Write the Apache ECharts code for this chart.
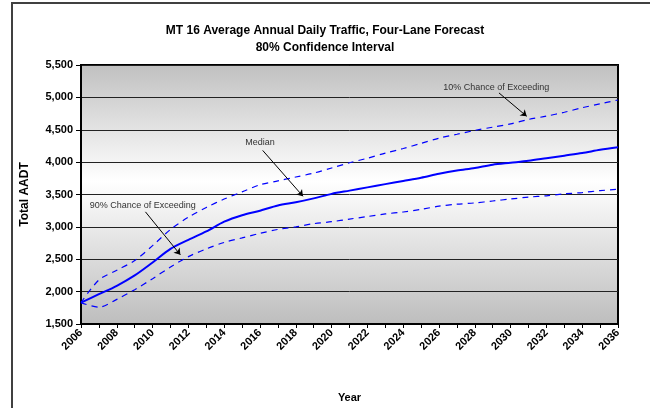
<!DOCTYPE html>
<html>
<head>
<meta charset="utf-8">
<script src="https://cdn.jsdelivr.net/npm/echarts@6/dist/echarts.min.js"></script>
<style>
  html, body { margin: 0; padding: 0; background: #fff; }
  #chart { width: 650px; height: 408px; }
</style>
</head>
<body>
<div id="chart"></div>
<script>
// years on the x axis
const years = [2006, 2007, 2008, 2009, 2010, 2011, 2012, 2013, 2014, 2015, 2016,
  2017, 2018, 2019, 2020, 2021, 2022, 2023, 2024, 2025, 2026,
  2027, 2028, 2029, 2030, 2031, 2032, 2033, 2034, 2035, 2036]

// median forecast
const median = [1830, 1960, 2090, 2250, 2450, 2660, 2800, 2930, 3080, 3180, 3250,
  3330, 3380, 3440, 3510, 3560, 3610, 3660, 3710, 3760, 3820,
  3870, 3910, 3960, 3990, 4020, 4060, 4100, 4140, 4190, 4230]

// 10% chance of exceeding (upper bound)
const upper = [1830, 2180, 2330, 2480, 2710, 2960, 3150, 3300, 3430, 3540, 3650,
  3710, 3770, 3830, 3910, 3990, 4060, 4140, 4210, 4290, 4370,
  4430, 4490, 4540, 4590, 4660, 4710, 4770, 4840, 4900, 4960]

// 90% chance of exceeding (lower bound)
const lower = [1830, 1760, 1880, 2030, 2200, 2380, 2540, 2660, 2760, 2830, 2900,
  2960, 3000, 3050, 3080, 3120, 3160, 3200, 3230, 3270, 3320,
  3350, 3370, 3400, 3430, 3460, 3480, 3510, 3530, 3560, 3580]

// annotation labels [text, year, value] and arrows [from, to]
const notes = [
  ['10% Chance of Exceeding', 2029.2, 5145],
  ['Median', 2016.0, 4300],
  ['90% Chance of Exceeding', 2009.45, 3337]
]
const arrows = [
  [[2029.35, 5069], [2030.9, 4708]],
  [[2016.15, 4181], [2018.4, 3473]],
  [[2009.6, 3232], [2011.55, 2569]]
]

const pairs = (vals) => vals.map((v, i) => [years[i], v])
const font = 'Liberation Sans, Arial, sans-serif'

const chart = echarts.init(document.getElementById('chart'))

const option = {
  animation: false,
  backgroundColor: '#fff',
  title: {
    text: 'MT 16 Average Annual Daily Traffic, Four-Lane Forecast\n80% Confidence Interval',
    left: 320,
    textAlign: 'center',
    top: 17,
    textStyle: {
      fontFamily: font,
      fontSize: 12,
      fontWeight: 'bold',
      color: '#000',
      lineHeight: 17
    }
  },
  graphic: [
    {
      type: 'polyline',
      shape: { points: [[12, 410], [12, 3], [652, 3]] },
      style: { stroke: '#404040', lineWidth: 2, fill: null },
      silent: true
    }
  ],
  grid: {
    left: 81,
    top: 65,
    width: 537,
    height: 265,
    show: true,
    borderColor: '#000',
    borderWidth: 2,
    backgroundColor: new echarts.graphic.LinearGradient(0, 0, 0, 1, [
      { offset: 0, color: '#c0c0c0' },
      { offset: 0.45, color: '#ffffff' },
      { offset: 1, color: '#bdbdbd' }
    ])
  },
  xAxis: {
    type: 'value',
    min: 2006,
    max: 2036,
    interval: 1,
    name: 'Year',
    nameLocation: 'middle',
    nameGap: 68,
    nameTextStyle: { fontFamily: font, fontSize: 11, fontWeight: 'bold', color: '#000' },
    axisLine: { lineStyle: { color: '#000', width: 2 } },
    axisTick: { show: true, length: 4, lineStyle: { color: '#000' } },
    splitLine: { show: false },
    axisLabel: {
      rotate: 45,
      margin: 7,
      fontFamily: font,
      fontSize: 11,
      fontWeight: 'bold',
      color: '#000',
      formatter: (v) => (v % 2 === 0 ? String(v) : '')
    }
  },
  yAxis: {
    type: 'value',
    min: 1500,
    max: 5500,
    interval: 500,
    name: 'Total AADT',
    nameLocation: 'middle',
    nameGap: 50,
    nameTextStyle: { fontFamily: font, fontSize: 12, fontWeight: 'bold', color: '#000' },
    axisLine: { show: true, lineStyle: { color: '#000', width: 2 } },
    axisTick: { show: true, length: 5, lineStyle: { color: '#000' } },
    splitLine: { show: true, lineStyle: { color: '#222', width: 1 } },
    axisLabel: {
      margin: 8,
      fontFamily: font,
      fontSize: 11,
      fontWeight: 'bold',
      color: '#000',
      formatter: (v) => v.toLocaleString('en-US')
    }
  },
  series: [
    {
      name: '10% Chance of Exceeding',
      type: 'line',
      data: pairs(upper),
      smooth: 0.3,
      showSymbol: false,
      lineStyle: { color: '#0000ff', width: 1.2, type: [6, 5] }
    },
    {
      name: '90% Chance of Exceeding',
      type: 'line',
      data: pairs(lower),
      smooth: 0.3,
      showSymbol: false,
      lineStyle: { color: '#0000ff', width: 1.2, type: [6, 5] }
    },
    {
      name: 'Median',
      type: 'line',
      data: pairs(median),
      smooth: 0.3,
      showSymbol: false,
      lineStyle: { color: '#0000ff', width: 2 },
      markLine: {
        silent: true,
        symbol: ['none', 'arrow'],
        symbolSize: 6,
        label: { show: false },
        lineStyle: { color: '#000', width: 1, type: 'solid' },
        data: arrows.map(a => [{ coord: a[0] }, { coord: a[1] }])
      },
      markPoint: {
        silent: true,
        symbol: 'circle',
        symbolSize: 0,
        label: {
          show: true,
          position: 'inside',
          fontFamily: font,
          fontSize: 9,
          color: '#333',
          formatter: (p) => p.name
        },
        data: notes.map(n => ({ name: n[0], coord: [n[1], n[2]] }))
      }
    }
  ]
}

chart.setOption(option)
</script>
</body>
</html>
